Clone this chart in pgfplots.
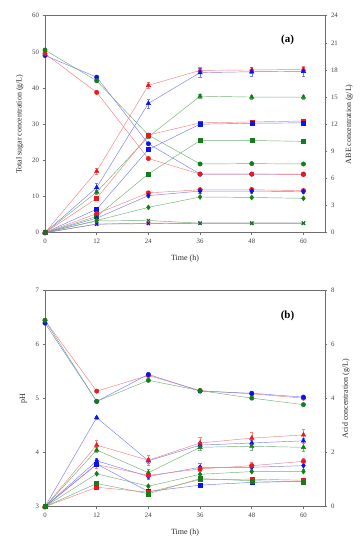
\documentclass[border=0pt]{standalone}
\usepackage{pgfplots}
\pgfplotsset{compat=1.18}
\usepackage{fontspec}
\setmainfont{Liberation Serif}
\definecolor{myred}{RGB}{235,25,30}
\definecolor{myblue}{RGB}{10,20,235}
\definecolor{mygreen}{RGB}{20,125,25}
\definecolor{axgray}{RGB}{110,110,110}
\pgfplotsset{
  base/.style={scale only axis, width=280bp, xmin=0, xmax=65,
    xtick={0,12,24,36,48,60}, tick align=outside,
    axis line style={axgray, line width=0.8pt},
    major tick style={axgray, line width=0.6pt}, major tick length=2.5pt,
    ticklabel style={font=\fontsize{6.8}{7}\selectfont, text=black!75},
    label style={font=\fontsize{8}{9}\selectfont, text=black!85},
    /pgf/number format/assume math mode=true,
    every axis plot/.append style={line width=0.45pt},
    error bars/error bar style={line width=0.45pt},
    error bars/error mark options={rotate=90, mark size=1.6pt, line width=0.45pt}},
  sr/.style={color=myred!55, mark options={fill=myred, draw=myred, solid}},
  sb/.style={color=myblue!55, mark options={fill=myblue, draw=myblue, solid}},
  sg/.style={color=mygreen!60, mark options={fill=mygreen, draw=mygreen, solid}},
  eb/.style={error bars/y dir=both, error bars/y explicit},
}
\begin{document}
\begin{tikzpicture}
\useasboundingbox (0,0) rectangle (364bp,550bp);
% ---------------- Panel (a) ----------------
\begin{axis}[base, at={(45bp,317.3bp)}, anchor=south west, height=217bp,
  ymin=0, ymax=60, ytick={0,10,...,60}, xtick pos=bottom, ytick pos=left,
  xlabel={Time (h)}, ylabel={Total sugar concentration (g/L)},
  xlabel style={yshift=-5bp}, ylabel style={yshift=2bp}]
\addplot[sb, mark=*, mark size=2.2pt] coordinates {(0,49) (12,43) (24,24.6) (36,16.2) (48,16.2) (60,16.2)};
\addplot[sr, mark=*, mark size=2.2pt] coordinates {(0,49.5) (12,38.8) (24,20.5) (36,16.2) (48,16.2) (60,16.1)};
\addplot[sg, mark=*, mark size=2.2pt] coordinates {(0,50.5) (12,42) (24,27) (36,19) (48,19.1) (60,19)};
\node[font=\bfseries\fontsize{11}{12}\selectfont] at (axis cs:56.3,53.3) {(a)};
\end{axis}
\begin{axis}[base, at={(45bp,317.3bp)}, anchor=south west, height=217bp,
  ymin=0, ymax=24, ytick={0,3,...,24}, axis x line=none, axis y line*=right,
  ylabel={ABE concentration (g/L)}, ylabel style={yshift=-1bp}]
% triangles
\addplot[sr, eb, mark=triangle*, mark size=2.6pt] coordinates {(0,0)+-(0,0) (12,6.8)+-(0,0.3) (24,16.3)+-(0,0.3) (36,17.95)+-(0,0.35) (48,18.0)+-(0,0.35) (60,18.05)+-(0,0.35)};
\addplot[sb, eb, mark=triangle*, mark size=2.6pt] coordinates {(0,0)+-(0,0) (12,5.0)+-(0,0.45) (24,14.3)+-(0,0.5) (36,17.7)+-(0,0.45) (48,17.8)+-(0,0.5) (60,17.85)+-(0,0.5)};
\addplot[sg, eb, mark=triangle*, mark size=2.6pt] coordinates {(0,0)+-(0,0) (12,4.5)+-(0,0.2) (24,10.6)+-(0,0.2) (36,15.1)+-(0,0.25) (48,15.0)+-(0,0.2) (60,15.0)+-(0,0.2)};
% squares
\addplot[sr, mark=square*, mark size=2pt] coordinates {(0,0) (12,3.8) (24,10.8) (36,12.15) (48,12.25) (60,12.35)};
\addplot[sb, mark=square*, mark size=2pt] coordinates {(0,0) (12,2.6) (24,9.2) (36,12.0) (48,12.1) (60,12.15)};
\addplot[sg, mark=square*, mark size=2pt] coordinates {(0,0) (12,1.8) (24,6.5) (36,10.2) (48,10.2) (60,10.1)};
% diamonds
\addplot[sr, eb, mark=*, mark size=2.3pt] coordinates {(0,0)+-(0,0) (12,2.1)+-(0,0.15) (24,4.4)+-(0,0.2) (36,4.75)+-(0,0.2) (48,4.75)+-(0,0.25) (60,4.65)+-(0,0.2)};
\addplot[sb, eb, mark=diamond*, mark size=2.5pt] coordinates {(0,0)+-(0,0) (12,1.6)+-(0,0.1) (24,4.1)+-(0,0.2) (36,4.6)+-(0,0.2) (48,4.6)+-(0,0.2) (60,4.55)+-(0,0.2)};
\addplot[sg, mark=diamond*, mark size=2.5pt] coordinates {(0,0) (12,1.35) (24,2.8) (36,3.95) (48,3.9) (60,3.8)};
% crosses
\addplot[sr, mark=x, mark size=2.2pt, mark options={draw=myred, line width=1pt, solid}] coordinates {(0,0) (12,0.95) (24,1.05) (36,1.05) (48,1.05) (60,1.05)};
\addplot[sb, mark=x, mark size=2.2pt, mark options={draw=myblue, line width=1pt, solid}] coordinates {(0,0) (12,0.95) (24,1.0) (36,1.05) (48,1.05) (60,1.05)};
\addplot[sg, mark=x, mark size=2.2pt, mark options={draw=mygreen, line width=1pt, solid}] coordinates {(0,0) (12,1.3) (24,1.35) (36,1.05) (48,1.05) (60,1.05)};
\end{axis}
% ---------------- Panel (b) ----------------
\begin{axis}[base, at={(45bp,43.3bp)}, anchor=south west, height=216bp,
  ymin=3, ymax=7, ytick={3,4,5,6,7}, xtick pos=bottom, ytick pos=left,
  xlabel={Time (h)}, ylabel={pH},
  xlabel style={yshift=-5bp}, ylabel style={yshift=2bp}]
\addplot[sr, mark=*, mark size=2.2pt] coordinates {(0,6.45) (12,5.14) (24,5.43) (36,5.15) (48,5.09) (60,5.01)};
\addplot[sb, mark=*, mark size=2.2pt] coordinates {(0,6.4) (12,4.95) (24,5.45) (36,5.14) (48,5.1) (60,5.03)};
\addplot[sg, mark=*, mark size=2.2pt] coordinates {(0,6.45) (12,4.95) (24,5.34) (36,5.15) (48,5.01) (60,4.89)};
\node[font=\bfseries\fontsize{11}{12}\selectfont] at (axis cs:56.3,6.54) {(b)};
\end{axis}
\begin{axis}[base, at={(45bp,43.3bp)}, anchor=south west, height=216bp,
  ymin=0, ymax=8, ytick={0,2,...,8}, axis x line=none, axis y line*=right,
  ylabel={Acid concentration (g/L)}, ylabel style={yshift=-1bp}]
% triangles
\addplot[sb, eb, mark=triangle*, mark size=2.6pt] coordinates {(0,0)+-(0,0) (12,3.3)+-(0,0.05) (24,1.7)+-(0,0.1) (36,2.28)+-(0,0.1) (48,2.36)+-(0,0.1) (60,2.44)+-(0,0.1)};
\addplot[sr, eb, mark=triangle*, mark size=2.6pt] coordinates {(0,0)+-(0,0) (12,2.28)+-(0,0.2) (24,1.72)+-(0,0.2) (36,2.36)+-(0,0.2) (48,2.54)+-(0,0.22) (60,2.66)+-(0,0.22)};
\addplot[sg, eb, mark=triangle*, mark size=2.6pt] coordinates {(0,0)+-(0,0) (12,2.1)+-(0,0.1) (24,1.26)+-(0,0.12) (36,2.2)+-(0,0.12) (48,2.24)+-(0,0.15) (60,2.2)+-(0,0.15)};
% diamonds
\addplot[sb, eb, mark=diamond*, mark size=2.5pt] coordinates {(0,0)+-(0,0) (12,1.7)+-(0,0.1) (24,1.12)+-(0,0.1) (36,1.46)+-(0,0.15) (48,1.46)+-(0,0.12) (60,1.52)+-(0,0.12)};
\addplot[sr, eb, mark=*, mark size=2.3pt] coordinates {(0,0)+-(0,0) (12,1.56)+-(0,0.12) (24,1.16)+-(0,0.1) (36,1.4)+-(0,0.1) (48,1.52)+-(0,0.12) (60,1.68)+-(0,0.12)};
\addplot[sg, mark=diamond*, mark size=2.5pt] coordinates {(0,0) (12,1.22) (24,0.76) (36,1.2) (48,1.3) (60,1.3)};
% squares
\addplot[sb, mark=square*, mark size=2pt] coordinates {(0,0) (12,1.58) (24,0.56) (36,0.8) (48,0.9) (60,0.94)};
\addplot[sr, mark=square*, mark size=2pt] coordinates {(0,0) (12,0.72) (24,0.54) (36,1.0) (48,1.02) (60,0.98)};
\addplot[sg, mark=square*, mark size=2pt] coordinates {(0,0) (12,0.86) (24,0.48) (36,1.04) (48,0.96) (60,0.92)};
\end{axis}
\end{tikzpicture}
\end{document}
